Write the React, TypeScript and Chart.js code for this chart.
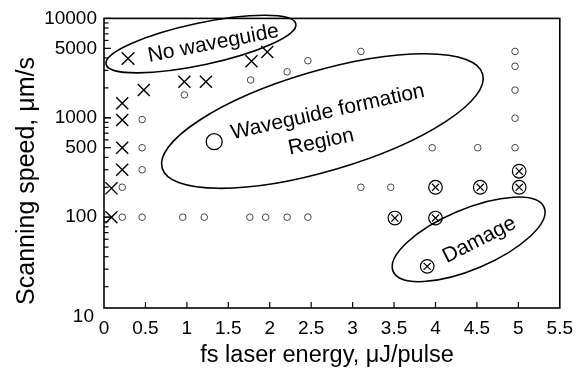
import React, { useEffect, useRef } from "react";
import { Chart, registerables } from "chart.js";

Chart.register(...registerables);

// ---------- data ----------
const xTickValues = [0, 0.5, 1, 1.5, 2, 2.5, 3, 3.5, 4, 4.5, 5, 5.5];
const yMajorTicks = [100, 500, 1000, 5000, 10000];
const yExtraLabel = 10;
const yAxisMin = 12.2;
const yAxisMax = 10000;

// "×" no waveguide
const noWaveguideX = [0.09, 0.09, 0.22, 0.22, 0.22, 0.22, 0.48, 0.97, 1.23, 1.78, 1.97];
const noWaveguideY = [100, 195, 300, 500, 950, 1400, 1900, 2300, 2300, 3700, 4600];

// "○" waveguide formation
const waveguideX = [0.22, 0.46, 0.95, 1.21, 1.76, 1.95, 2.21, 2.46, 0.22, 3.1, 3.46, 0.46, 0.46, 3.96, 4.51, 4.96, 0.46, 4.96, 0.97, 4.96, 1.77, 2.21, 4.96, 2.46, 3.1, 4.96];
const waveguideY = [100, 100, 100, 100, 100, 100, 100, 100, 200, 200, 200, 300, 500, 500, 500, 500, 960, 990, 1700, 1900, 2400, 2900, 3300, 3750, 4650, 4650];

// "⊗" damage
const damageX = [3.51, 4.0, 4.0, 4.54, 5.01, 5.01];
const damageY = [98, 98, 200, 200, 200, 290];

// legend markers placed inside the annotation ellipses
const legendNoWaveguide = [{ x: 0.29, y: 3950 }];
const legendWaveguide = [{ x: 1.33, y: 575 }];
const legendDamage = [{ x: 3.9, y: 32 }];

// annotation texts and their anchors (data coordinates)
const annotationTexts = ["No waveguide", "Waveguide formation", "Region", "Damage"];
const annotationX = [1.32, 2.7, 2.62, 4.53];
const annotationY = [5580, 1140, 571, 59];
const annotationAngle = [-11, -12.5, -12, -27];

// ellipses (centre in data coordinates)
const ellipseX = [1.17, 2.635, 4.4];
const ellipseY = [5520, 927, 59.8];
const ellipseRadiusA = [97, 167, 82];
const ellipseRadiusB = [21, 50, 30];
const ellipseAngle = [-12, -16.4, -23];

const xTitle = "fs laser energy, μJ/pulse";
const yTitle = "Scanning speed, μm/s";

const FONT = "'Liberation Sans', Arial, sans-serif";

const toPoints = (xs: number[], ys: number[]) => xs.map((x, i) => ({ x, y: ys[i] }));

const decorPlugin = {
  id: "decor",
  afterDatasetsDraw(chart: any) {
    const { ctx, chartArea, scales } = chart;
    const { left, right, top, bottom } = chartArea;
    const xs = scales.x;
    const ys = scales.y;
    ctx.save();
    ctx.strokeStyle = "#000";
    ctx.fillStyle = "#000";

    // ellipses
    ctx.lineWidth = 1.6;
    for (let i = 0; i < ellipseX.length; i++) {
      const cx = xs.getPixelForValue(ellipseX[i]);
      const cy = ys.getPixelForValue(ellipseY[i]);
      ctx.beginPath();
      ctx.ellipse(cx, cy, ellipseRadiusA[i], ellipseRadiusB[i], (ellipseAngle[i] * Math.PI) / 180, 0, Math.PI * 2);
      ctx.stroke();
    }

    // annotation text
    ctx.font = `21px ${FONT}`;
    ctx.textAlign = "center";
    ctx.textBaseline = "middle";
    for (let i = 0; i < annotationTexts.length; i++) {
      const cx = xs.getPixelForValue(annotationX[i]);
      const cy = ys.getPixelForValue(annotationY[i]);
      ctx.save();
      ctx.translate(cx, cy);
      ctx.rotate((annotationAngle[i] * Math.PI) / 180);
      ctx.fillText(annotationTexts[i], 0, 0);
      ctx.restore();
    }

    // frame
    ctx.lineWidth = 1.6;
    ctx.strokeRect(left, top, right - left, bottom - top);

    // x ticks (inward)
    ctx.lineWidth = 1.2;
    for (const v of xTickValues) {
      const px = xs.getPixelForValue(v);
      if (px <= left + 1 || px >= right - 1) continue;
      ctx.beginPath();
      ctx.moveTo(px, bottom);
      ctx.lineTo(px, bottom - 6);
      ctx.stroke();
    }

    // y ticks (inward), major + minor
    for (let dec = 10; dec < yAxisMax; dec *= 10) {
      for (let m = 1; m <= 10; m++) {
        const v = dec * m;
        if (v < yAxisMin || v > yAxisMax) continue;
        const py = ys.getPixelForValue(v);
        const len = yMajorTicks.includes(v) ? 7 : 4.5;
        ctx.beginPath();
        ctx.moveTo(left, py);
        ctx.lineTo(left + len, py);
        ctx.stroke();
      }
    }

    // "10" label sits at its true log position below the cut axis
    ctx.font = `19px ${FONT}`;
    ctx.textAlign = "right";
    ctx.textBaseline = "middle";
    ctx.fillText(String(yExtraLabel), left - 10, ys.getPixelForValue(yExtraLabel));

    // axis titles
    ctx.font = `23.5px ${FONT}`;
    ctx.textAlign = "center";
    ctx.textBaseline = "alphabetic";
    ctx.fillText(xTitle, 327, 361.5);

    ctx.save();
    ctx.font = `25px ${FONT}`;
    ctx.translate(33.5, 181);
    ctx.rotate(-Math.PI / 2);
    ctx.fillText(yTitle, 0, 0);
    ctx.restore();

    ctx.restore();
  },
};

export default function App() {
  const canvasRef = useRef<HTMLCanvasElement | null>(null);

  useEffect(() => {
    const canvas = canvasRef.current;
    if (!canvas) return;
    const crossStyle = { pointStyle: "crossRot", borderColor: "#000", backgroundColor: "#000", showLine: false, clip: false as any };
    const chart = new Chart(canvas, {
      type: "scatter",
      data: {
        datasets: [
          { ...crossStyle, label: "No waveguide", data: toPoints(noWaveguideX, noWaveguideY), pointRadius: 8.5, borderWidth: 1.4 },
          { label: "Waveguide", data: toPoints(waveguideX, waveguideY), pointStyle: "circle", pointRadius: 3.3, borderWidth: 1, borderColor: "#444", backgroundColor: "rgba(0,0,0,0)", clip: false as any },
          { label: "Damage ring", data: toPoints(damageX, damageY), pointStyle: "circle", pointRadius: 6.8, borderWidth: 1.2, borderColor: "#000", backgroundColor: "rgba(0,0,0,0)", clip: false as any },
          { ...crossStyle, label: "Damage cross", data: toPoints(damageX, damageY), pointRadius: 5, borderWidth: 1.2 },
          { ...crossStyle, label: "legend ×", data: legendNoWaveguide, pointRadius: 9, borderWidth: 1.4 },
          { label: "legend ○", data: legendWaveguide, pointStyle: "circle", pointRadius: 8, borderWidth: 1.3, borderColor: "#000", backgroundColor: "rgba(0,0,0,0)", clip: false as any },
          { label: "legend ⊗ ring", data: legendDamage, pointStyle: "circle", pointRadius: 6.8, borderWidth: 1.2, borderColor: "#000", backgroundColor: "rgba(0,0,0,0)", clip: false as any },
          { ...crossStyle, label: "legend ⊗ cross", data: legendDamage, pointRadius: 5, borderWidth: 1.2 },
        ] as any,
      },
      options: {
        responsive: false,
        animation: false,
        events: [],
        layout: { padding: { top: 17, right: 20, left: 0, bottom: 0 } },
        plugins: { legend: { display: false }, tooltip: { enabled: false } },
        scales: {
          x: {
            type: "linear",
            min: 0,
            max: 5.5,
            afterFit: (s: any) => { s.height = 66; },
            afterBuildTicks: (s: any) => { s.ticks = xTickValues.map((v) => ({ value: v })); },
            grid: { display: false, drawTicks: false },
            border: { display: false },
            ticks: {
              autoSkip: false,
              maxRotation: 0,
              padding: 9,
              color: "#000",
              font: { family: FONT, size: 19 },
              callback: (v: any) => String(v),
            },
          },
          y: {
            type: "logarithmic",
            min: yAxisMin,
            max: yAxisMax,
            afterFit: (s: any) => { s.width = 104; },
            afterBuildTicks: (s: any) => { s.ticks = yMajorTicks.map((v) => ({ value: v })); },
            grid: { display: false, drawTicks: false },
            border: { display: false },
            ticks: {
              padding: 7,
              color: "#000",
              font: { family: FONT, size: 19 },
              callback: (v: any) => String(v),
            },
          },
        },
      },
      plugins: [decorPlugin],
    });
    return () => chart.destroy();
  }, []);

  return (
    <div style={{ position: "absolute", left: 0, top: 0, width: 582, height: 374, background: "#fff" }}>
      <canvas ref={canvasRef} width={582} height={374} />
    </div>
  );
}
